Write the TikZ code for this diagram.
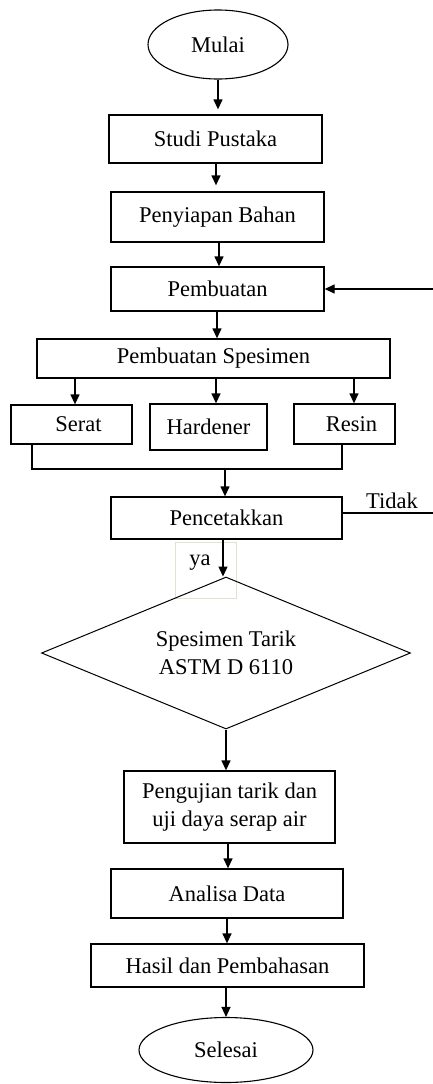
\documentclass[tikz,border=0pt]{standalone}
\usepackage{fontspec}
\setmainfont{Liberation Serif}
\usetikzlibrary{shapes.geometric,arrows.meta}
\definecolor{yagray}{HTML}{E4E1D2}
\begin{document}
\begin{tikzpicture}[x=1pt,y=-1pt,
  every node/.style={font=\fontsize{22.5}{27.5}\selectfont},
  box/.style={draw,line width=1.3pt,rectangle,inner sep=0pt,align=center},
  term/.style={draw,line width=1.1pt,ellipse,inner sep=0pt},
  dec/.style={draw,line width=1pt,diamond,aspect=2.43,inner sep=0pt,align=center},
  arr/.style={line width=1.3pt,-{Triangle[length=10pt,width=9pt]}},
  ln/.style={line width=1.3pt}]
\useasboundingbox (0,0) rectangle (433,1084);

\node[term,minimum width=140pt,minimum height=69pt] (mulai) at (218,44.5) {Mulai};
\node[box,minimum width=213pt,minimum height=48pt] (studi) at (215.5,139) {Studi Pustaka};
\node[box,minimum width=213pt,minimum height=50pt] (siap) at (217.5,217) {Penyiapan Bahan};
\node[box,minimum width=213pt,minimum height=44pt] (pemb) at (217.5,289) {Pembuatan};
\node[box,minimum width=353pt,minimum height=39pt] (spes) at (213.5,358.5) {Pembuatan Spesimen};
\node[box,minimum width=121pt,minimum height=39pt] (serat) at (71.5,424.5) {\hspace*{14pt}Serat};
\node[box,minimum width=117pt,minimum height=46pt] (hard) at (208.5,427) {Hardener};
\node[box,minimum width=101pt,minimum height=40pt] (resin) at (344.5,424) {\hspace*{14pt}Resin};
\node[box,minimum width=231pt,minimum height=42pt] (pencet) at (226.5,518) {Pencetakkan};
\node[draw=yagray,line width=0.7pt,minimum width=61pt,minimum height=56pt,inner sep=0pt] (yabox) at (205.5,570) {};
\node (ya) at (200,563) {ya};
\node (tidak) at (392,501) {Tidak};
\node[dec,minimum width=369pt,minimum height=152pt] (dia) at (226,653) {Spesimen Tarik\\ASTM D 6110};
\node[box,minimum width=211pt,minimum height=72pt] (uji) at (229.5,807) {Pengujian tarik dan\\uji daya serap air};
\node[box,minimum width=232pt,minimum height=49pt] (anal) at (227,893.5) {Analisa Data};
\node[box,minimum width=273pt,minimum height=43pt] (hasil) at (227.5,965.5) {Hasil dan Pembahasan};
\node[term,minimum width=174pt,minimum height=65pt] (selesai) at (226,1050) {Selesai};

\coordinate (loopin) at (433,289);
\coordinate (tidakend) at (433,513);
\coordinate (join) at (225,469);

\draw[arr,shorten >=5pt] (mulai.south) -- (mulai.south |- studi.north);
\draw[arr,shorten >=6pt] ([xshift=0.5pt]studi.south) -- ([xshift=0.5pt]studi.south |- siap.north);
\draw[arr] ([xshift=1.5pt]siap.south) -- ([xshift=1.5pt]siap.south |- pemb.north);
\draw[arr] ([xshift=-0.5pt]pemb.south) -- ([xshift=-0.5pt]pemb.south |- spes.north);
\draw[arr] (loopin) -- (pemb.east);
\draw[arr] ([xshift=3.5pt]serat.north |- spes.south) -- ([xshift=3.5pt]serat.north);
\draw[arr] ([xshift=7.5pt]hard.north |- spes.south) -- ([xshift=7.5pt]hard.north);
\draw[arr] ([xshift=9.5pt]resin.north |- spes.south) -- ([xshift=9.5pt]resin.north);
\draw[ln] ([xshift=-39.5pt]serat.south) |- ([xshift=-2.5pt]resin.south |- join) -- ([xshift=-2.5pt]resin.south);
\draw[arr] (join) -- (join |- pencet.north);
\draw[ln] (pencet.east |- tidakend) -- (tidakend);
\draw[arr] ([xshift=-3.5pt]pencet.south) -- ([xshift=-3.5pt]pencet.south |- dia.north);
\draw[arr] (dia.south) -- (dia.south |- uji.north);
\draw[arr] ([xshift=-1.5pt]uji.south) -- ([xshift=-1.5pt]uji.south |- anal.north);
\draw[arr] (anal.south) -- (anal.south |- hasil.north);
\draw[arr] ([xshift=-1.5pt]hasil.south) -- ([xshift=-1.5pt]hasil.south |- selesai.north);
\end{tikzpicture}
\end{document}
